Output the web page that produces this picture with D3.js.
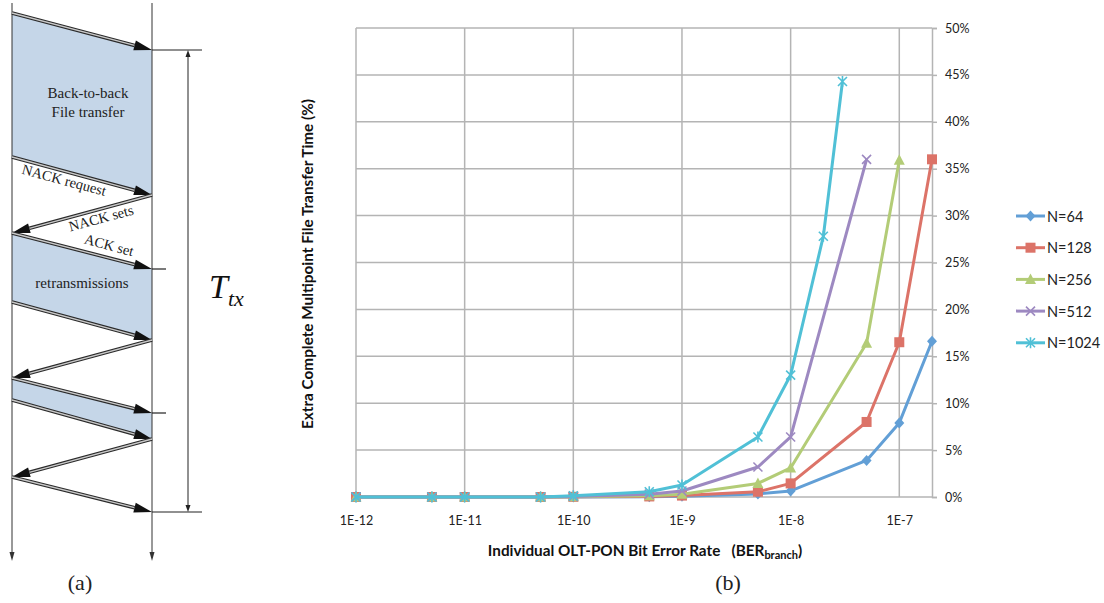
<!DOCTYPE html>
<html>
<head>
<meta charset="utf-8">
<script src="https://cdn.jsdelivr.net/npm/d3@7"></script>
<style>
  html, body { margin: 0; padding: 0; background: #fff; }
  svg { display: block; }
</style>
</head>
<body>
<svg id="fig" width="1104" height="603"></svg>
<script>
// chart (b) data: BER (x) vs extra transfer time in % (y)
const seriesNames = ["N=64", "N=128", "N=256", "N=512", "N=1024"]
const xN64 = [1e-12, 5e-12, 1e-11, 5e-11, 1e-10, 5e-10, 1e-9, 5e-9, 1e-8, 5e-8, 1e-7, 2e-7]
const yN64 = [0, 0, 0, 0, 0.01, 0.03, 0.08, 0.33, 0.65, 3.9, 7.9, 16.6]
const xN128 = [1e-12, 5e-12, 1e-11, 5e-11, 1e-10, 5e-10, 1e-9, 5e-9, 1e-8, 5e-8, 1e-7, 2e-7]
const yN128 = [0, 0, 0, 0, 0.02, 0.06, 0.15, 0.56, 1.45, 8.0, 16.5, 36.0]
const xN256 = [1e-12, 5e-12, 1e-11, 5e-11, 1e-10, 5e-10, 1e-9, 5e-9, 1e-8, 5e-8, 1e-7]
const yN256 = [0, 0, 0, 0, 0.03, 0.12, 0.3, 1.45, 3.1, 16.4, 35.9]
const xN512 = [1e-12, 5e-12, 1e-11, 5e-11, 1e-10, 5e-10, 1e-9, 5e-9, 1e-8, 5e-8]
const yN512 = [0, 0, 0, 0, 0.06, 0.3, 0.64, 3.2, 6.4, 36.0]
const xN1024 = [1e-12, 5e-12, 1e-11, 5e-11, 1e-10, 5e-10, 1e-9, 5e-9, 1e-8, 2e-8, 3e-8]
const yN1024 = [0, 0, 0, 0, 0.12, 0.56, 1.28, 6.4, 13.0, 27.8, 44.3]
const xTicks = [1e-12, 1e-11, 1e-10, 1e-9, 1e-8, 1e-7]
const yTicks = [0, 5, 10, 15, 20, 25, 30, 35, 40, 45, 50]

// diagram (a): message times (arbitrary units down the time axis)
const msgTimes = [
  [13, 50], [157, 195], [195, 233], [233, 269], [302, 340],
  [340, 378], [378, 413], [400, 439], [439, 477], [477, 512]
]
const msgDir = ["R", "R", "L", "R", "R", "L", "R", "R", "L", "R"]

const svg = d3.select("#fig")
const colors = ["#629fd6", "#dc7368", "#b3cc77", "#9d89c1", "#50c0d6"]
const symbols = ["diamond", "square", "triangle", "x", "star"]

// ---------- (a) sequence diagram ----------
const L = 12, R = 152
const ty = d3.scaleLinear().domain([0, 560]).range([0, 560])
const ga = svg.append("g")

// shaded areas (back-to-back transfers)
const fills = [[0, 1], [3, 4], [6, 7]]
fills.forEach(([a, b]) => {
  const m1 = msgTimes[a], m2 = msgTimes[b]
  ga.append("path")
    .attr("d", `M${L},${ty(m1[0])}L${R},${ty(m1[1])}L${R},${ty(m2[1])}L${L},${ty(m2[0])}Z`)
    .attr("fill", "#c5d6e8")
})

// time lines
;[L, R].forEach(x => {
  ga.append("line").attr("x1", x).attr("x2", x).attr("y1", ty(3)).attr("y2", ty(558))
    .attr("stroke", "#333").attr("stroke-width", 1)
  ga.append("path").attr("d", `M${x - 2.5},${ty(552)}L${x + 2.5},${ty(552)}L${x},${ty(561)}Z`).attr("fill", "#333")
})

// messages
msgTimes.forEach((m, i) => {
  const x0 = msgDir[i] === "R" ? L : R
  const x1 = msgDir[i] === "R" ? R : L
  const y0 = ty(m[0]), y1 = ty(m[1])
  const ang = Math.atan2(y1 - y0, x1 - x0)
  const len = 18, hw = 5
  const bx = x1 - len * Math.cos(ang), by = y1 - len * Math.sin(ang)
  ga.append("line").attr("x1", x0).attr("y1", y0).attr("x2", bx).attr("y2", by)
    .attr("stroke", "#2a2a2a").attr("stroke-width", 3.6)
  ga.append("line").attr("x1", x0).attr("y1", y0).attr("x2", bx).attr("y2", by)
    .attr("stroke", "#c8c8c8").attr("stroke-width", 1.3)
  const px = -Math.sin(ang) * hw, py = Math.cos(ang) * hw
  ga.append("path")
    .attr("d", `M${x1},${y1}L${bx + px},${by + py}L${bx - px},${by - py}Z`)
    .attr("fill", "#111")
})

// reference marks
;[[50, 202], [269, 166], [413, 166], [512, 202]].forEach(([t, x2]) => {
  ga.append("line").attr("x1", R).attr("x2", x2).attr("y1", ty(t)).attr("y2", ty(t))
    .attr("stroke", "#222").attr("stroke-width", 1.2)
})
ga.append("line").attr("x1", 188).attr("x2", 188).attr("y1", ty(54)).attr("y2", ty(508))
  .attr("stroke", "#222").attr("stroke-width", 1)
ga.append("path").attr("d", `M188,${ty(50)}L185.5,${ty(57)}L190.5,${ty(57)}Z`).attr("fill", "#222")
ga.append("path").attr("d", `M188,${ty(512)}L185.5,${ty(505)}L190.5,${ty(505)}Z`).attr("fill", "#222")

const serif = "'Liberation Serif', 'DejaVu Serif', serif"
const txt = (x, y, s, size, rot) => ga.append("text")
  .attr("transform", `translate(${x},${y}) rotate(${rot || 0})`)
  .attr("text-anchor", "middle").attr("dominant-baseline", "central")
  .attr("font-family", serif).attr("font-size", size).attr("fill", "#222").text(s)
txt(88, 93, "Back-to-back", 15)
txt(88, 112, "File transfer", 15)
txt(82, 283, "retransmissions", 15)
txt(64, 180, "NACK request", 14.5, 15)
txt(101, 218, "NACK sets", 14.5, -15)
txt(109, 245, "ACK set", 14.5, 15)
const tt = ga.append("text").attr("x", 209).attr("y", 298)
  .attr("font-family", serif).attr("font-style", "italic").attr("fill", "#111")
tt.append("tspan").attr("font-size", 34).text("T")
tt.append("tspan").attr("font-size", 22).attr("dy", 8).text("tx")
txt(80, 582, "(a)", 22)

// ---------- (b) chart ----------
const sans = "Lato, 'Open Sans', sans-serif"
const x = d3.scaleLog().domain([1e-12, 2e-7]).range([356, 932])
const y = d3.scaleLinear().domain([0, 50]).range([497, 28])
const gb = svg.append("g")

gb.append("g").selectAll("line").data(yTicks).join("line")
  .attr("x1", x.range()[0]).attr("x2", x.range()[1])
  .attr("y1", d => y(d)).attr("y2", d => y(d))
  .attr("stroke", "#b4b4b4").attr("stroke-width", 1.5)
gb.append("g").selectAll("line").data(xTicks).join("line")
  .attr("x1", d => x(d)).attr("x2", d => x(d))
  .attr("y1", y(0)).attr("y2", y(50))
  .attr("stroke", "#b4b4b4").attr("stroke-width", 1.5)

// right value axis
const ay = gb.append("g").attr("transform", `translate(${x.range()[1]},0)`)
  .call(d3.axisRight(y).tickValues(yTicks).tickSize(5).tickPadding(8).tickFormat(d => d + "%"))
ay.select(".domain").attr("stroke", "#b4b4b4").attr("stroke-width", 1.5)
ay.selectAll(".tick line").attr("stroke", "#b4b4b4").attr("stroke-width", 1.5)
ay.selectAll("text").attr("font-family", sans).attr("font-size", 12.5).attr("fill", "#222")

// bottom labels
const ax = gb.append("g").attr("transform", `translate(0,${y(0)})`)
  .call(d3.axisBottom(x).tickValues(xTicks).tickSize(0).tickPadding(19)
    .tickFormat(d => "1E" + Math.round(Math.log10(d))))
ax.select(".domain").remove()
ax.selectAll("text").attr("font-family", sans).attr("font-size", 12.5).attr("fill", "#222")

// series
const xs = [xN64, xN128, xN256, xN512, xN1024]
const ys = [yN64, yN128, yN256, yN512, yN1024]
const line = d3.line().x(d => x(d[0])).y(d => y(d[1]))

function marker(g, kind, c) {
  if (kind === "diamond") {
    g.append("path").attr("d", "M0,-5.5L5,0L0,5.5L-5,0Z").attr("fill", c)
  } else if (kind === "square") {
    g.append("rect").attr("x", -5).attr("y", -5).attr("width", 10).attr("height", 10).attr("fill", c)
  } else if (kind === "triangle") {
    g.append("path").attr("d", "M0,-6L5.5,4.5L-5.5,4.5Z").attr("fill", c)
  } else if (kind === "x") {
    g.append("path").attr("d", "M-4.5,-4.5L4.5,4.5M-4.5,4.5L4.5,-4.5")
      .attr("stroke", c).attr("stroke-width", 1.6).attr("fill", "none")
  } else {
    g.append("path").attr("d", "M-4.5,-4.5L4.5,4.5M-4.5,4.5L4.5,-4.5M0,-5.5L0,5.5")
      .attr("stroke", c).attr("stroke-width", 1.6).attr("fill", "none")
  }
}

seriesNames.forEach((name, i) => {
  const pts = xs[i].map((v, j) => [v, ys[i][j]])
  const g = gb.append("g")
  g.append("path").datum(pts).attr("d", line)
    .attr("fill", "none").attr("stroke", colors[i]).attr("stroke-width", 3)
    .attr("stroke-linejoin", "round")
  pts.forEach(p => {
    marker(g.append("g").attr("transform", `translate(${x(p[0])},${y(p[1])})`), symbols[i], colors[i])
  })
})

// legend
const leg = gb.append("g")
seriesNames.forEach((name, i) => {
  const ly = 216 + i * 31.7
  leg.append("line").attr("x1", 1016).attr("x2", 1045).attr("y1", ly).attr("y2", ly)
    .attr("stroke", colors[i]).attr("stroke-width", 3)
  marker(leg.append("g").attr("transform", `translate(1030.5,${ly})`), symbols[i], colors[i])
  leg.append("text").attr("x", 1047).attr("y", ly).attr("dominant-baseline", "central")
    .attr("font-family", sans).attr("font-size", 14.5).attr("fill", "#222").text(name)
})

// axis titles
gb.append("text").attr("transform", "translate(307,264) rotate(-90)")
  .attr("text-anchor", "middle").attr("dominant-baseline", "central")
  .attr("font-family", sans).attr("font-weight", "bold").attr("font-size", 15.3).attr("fill", "#111")
  .text("Extra Complete Multipoint File Transfer Time  (%)")
const xt = gb.append("text").attr("x", 645).attr("y", 556)
  .attr("text-anchor", "middle").attr("xml:space", "preserve")
  .attr("font-family", sans).attr("font-weight", "bold").attr("font-size", 15.3).attr("fill", "#111")
xt.append("tspan").text("Individual OLT-PON Bit Error Rate   (BER")
xt.append("tspan").attr("font-size", 11).attr("dy", 3).text("branch")
xt.append("tspan").attr("dy", -3).text(")")

svg.append("text").attr("x", 728).attr("y", 582)
  .attr("text-anchor", "middle").attr("dominant-baseline", "central")
  .attr("font-family", serif).attr("font-size", 22).attr("fill", "#222").text("(b)")
</script>
</body>
</html>
